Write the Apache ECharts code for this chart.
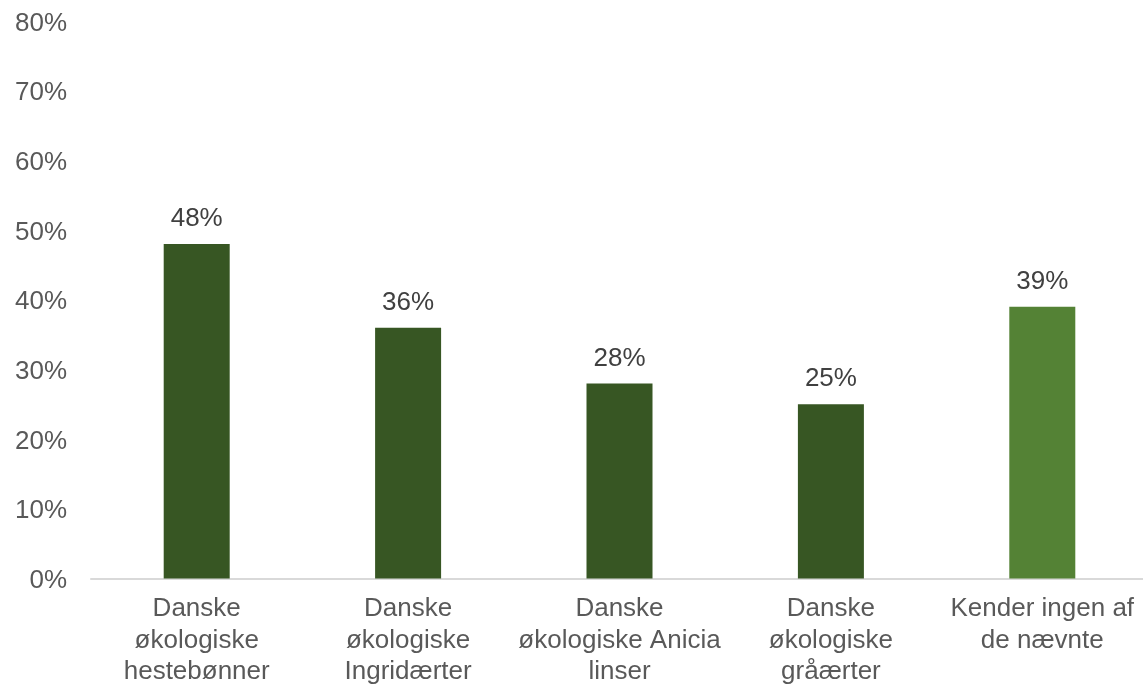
<!DOCTYPE html>
<html>
<head>
<meta charset="utf-8">
<title>Kendskab til danske økologiske bælgfrugter</title>
<script src="https://cdn.jsdelivr.net/npm/echarts@6/dist/echarts.min.js"></script>
<style>
  html, body { margin: 0; padding: 0; background: #ffffff; overflow: hidden; }
  /* the plot area runs a few pixels past the right edge of the window */
  #chart { width: 1148px; height: 688px; }
</style>
</head>
<body>
<div id="chart"></div>
<script>
// Categories (with line breaks as shown under the axis)
const categories = [
  'Danske\nøkologiske\nhestebønner',
  'Danske\nøkologiske\nIngridærter',
  'Danske\nøkologiske Anicia\nlinser',
  'Danske\nøkologiske\ngråærter',
  'Kender ingen af\nde nævnte'
];

// Share of respondents (%)
const values = [48, 36, 28, 25, 39];

// Bar colours: products in dark green, "none" in lighter green
const barColors = ['#375623', '#375623', '#375623', '#375623', '#548235'];

// Value axis range
const yMin = 0;
const yMax = 80;
const yStep = 10;

const font = '"Liberation Sans", Arial, sans-serif';

const chart = echarts.init(document.getElementById('chart'), null, { renderer: 'canvas' });

chart.setOption({
  animation: false,
  backgroundColor: '#ffffff',
  grid: { left: 91, right: 0, top: 21, bottom: 104, containLabel: false },
  xAxis: {
    type: 'category',
    data: categories,
    axisLine: { show: true, lineStyle: { color: '#d9d9d9', width: 2 } },
    axisTick: { show: false },
    axisLabel: {
      color: '#595959',
      fontFamily: font,
      fontSize: 26,
      lineHeight: 31.5,
      margin: 15,
      interval: 0,
      align: 'center'
    }
  },
  yAxis: {
    type: 'value',
    min: yMin,
    max: yMax,
    interval: yStep,
    axisLine: { show: false },
    axisTick: { show: false },
    splitLine: { show: false },
    axisLabel: {
      margin: 24,
      formatter: v => '{t|' + v + '%}',
      rich: {
        // tick labels sit a little below their tick value
        t: {
          color: '#595959',
          fontFamily: font,
          fontSize: 26,
          padding: [5, 0, 0, 0]
        }
      }
    }
  },
  series: [{
    type: 'bar',
    data: values.map((v, i) => ({ value: v, itemStyle: { color: barColors[i] } })),
    barWidth: 66,
    label: {
      show: true,
      position: 'top',
      distance: 12,
      color: '#404040',
      fontFamily: font,
      fontSize: 26,
      formatter: p => Math.round(p.value) + '%'
    }
  }]
});
</script>
</body>
</html>
